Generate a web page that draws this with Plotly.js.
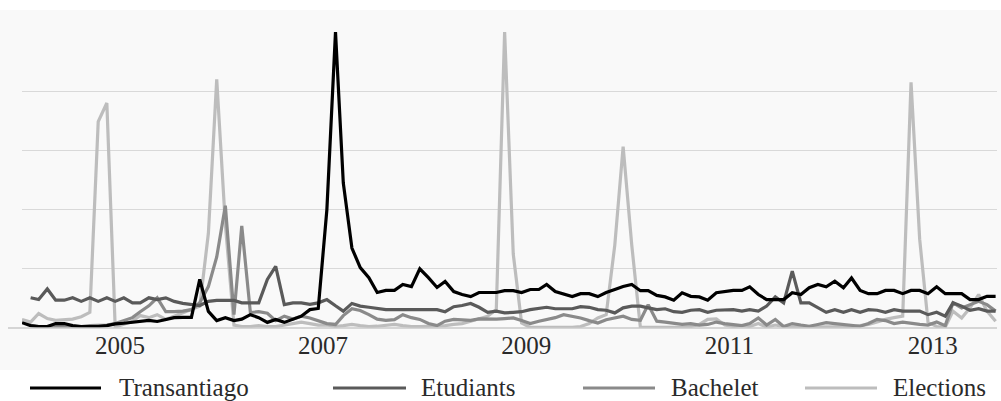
<!DOCTYPE html>
<html>
<head>
<meta charset="utf-8">
<script src="https://cdn.plot.ly/plotly-3.0.1.min.js"></script>
<style>html,body{margin:0;padding:0;background:#fff;}#chart{width:1001px;height:401px;}</style>
</head>
<body>
<div id="chart"></div>
<script>
// ---- Data (monthly, Jan 2004 - Aug 2013) ----
const startYear = 2004;
const monthCount = 116;
const yearLabels = ['2005', '2007', '2009', '2011', '2013'];
const seriesNames = ['Transantiago', 'Etudiants', 'Bachelet', 'Elections'];

const transantiago = [
  1.8, 0.8, 0.5, 0.5, 1.5, 1.5, 0.8, 0.5, 0.5, 0.5, 0.8, 1.4,
  1.6, 2.0, 2.3, 2.6, 2.2, 3.0, 3.5, 3.6, 3.6, 16.4, 5.6, 2.5,
  3.5, 2.5, 3.0, 4.5, 3.5, 1.9, 2.9, 1.9, 2.9, 4.0, 6.2, 6.6,
  40, 100, 49, 27, 20.4, 17, 12, 12.7, 12.7, 14.7, 14, 20,
  17, 13.7, 15.7, 12.3, 11.3, 10.6, 12, 12, 12, 12.6, 12.6, 12,
  13, 13, 14.7, 12.3, 11.6, 10.6, 11.6, 11.6, 10.6, 12, 13, 14,
  14.7, 12.6, 12.6, 11, 10.5, 9.4, 11.9, 10.7, 10.5, 9.4, 11.9, 12.2,
  12.7, 12.7, 13.9, 11.3, 9.6, 9.6, 9.6, 11.9, 11.3, 13.6, 14.7, 13.9,
  15.8, 13.6, 16.9, 12.7, 11.6, 11.6, 12.7, 12.7, 11.6, 12.7, 12.7, 11.6,
  13.9, 11.6, 11.6, 11.6, 9.6, 9.6, 10.7, 10.7
];
const etudiants = [
  null, 10.2, 9.6, 13.2, 9.4, 9.4, 10.2, 9.0, 10.2, 9.0, 10.2, 9.0,
  10.2, 8.5, 8.5, 10.2, 9.6, 10.2, 9.0, 8.3, 7.9, 7.6, 9.0, 9.3,
  9.3, 9.3, 8.5, 8.5, 8.5, 16.4, 20.8, 7.9, 8.5, 8.5, 8.0, 8.5,
  9.6, 7.5, 5.7, 8.3, 7.4, 7.0, 6.5, 6.2, 6.2, 6.2, 6.2, 6.2,
  6.2, 6.2, 5.5, 7.2, 7.6, 8.3, 7.0, 5.3, 5.7, 5.1, 5.3, 5.5,
  6.2, 6.5, 7.0, 6.5, 6.5, 6.5, 7.2, 7.0, 6.2, 6.0, 5.1, 6.8,
  7.4, 7.4, 6.8, 6.2, 6.5, 5.5, 5.3, 6.0, 6.2, 5.3, 6.0, 6.0,
  6.2, 5.7, 6.2, 5.7, 7.4, 10.5, 8.5, 19.2, 8.5, 8.5, 6.8, 5.3,
  6.2, 5.3, 6.2, 5.3, 6.2, 6.0, 5.3, 6.2, 5.7, 5.7, 5.7, 4.5,
  5.3, 4.0, 8.5, 7.4, 6.0, 6.5, 5.7, 5.7
];
const bachelet = [
  null, 0.8, 0.5, 0.5, 0.5, 0.5, 0.5, 0.5, 0.8, 0.8, 1.0, 1.5,
  2.5, 3.5, 5.5, 7.5, 10.2, 5.5, 5.5, 5.7, 6.2, 8.5, 14, 24,
  41.3, 4.5, 34.5, 5.2, 5.5, 5.0, 2.5, 4.0, 3.0, 4.0, 3.4, 2.5,
  1.5, 1.2, 4.2, 6.5, 5.9, 4.5, 3.0, 2.6, 2.8, 4.5, 3.5, 2.9,
  1.5, 0.8, 2.3, 2.9, 2.8, 2.6, 3.1, 3.0, 3.0, 3.2, 3.4, 2.5,
  1.5, 2.3, 2.9, 3.5, 4.5, 4.0, 3.4, 2.5, 1.7, 2.8, 3.4, 4.0,
  2.9, 2.6, 7.9, 2.3, 2.0, 1.5, 1.2, 1.5, 1.0, 1.2, 2.0, 1.5,
  1.2, 0.8, 1.5, 3.4, 1.0, 2.9, 0.5, 1.5, 1.0, 0.6, 1.2, 1.8,
  1.5, 1.2, 1.0, 0.6, 1.5, 2.9, 2.5, 1.5, 2.0, 1.5, 1.2, 1.0,
  2.0, 0.8, 8.5, 6.8, 7.9, 9.0, 7.9, 5.7
];
const elections = [
  2.9, 2.0, 4.9, 3.2, 2.6, 2.9, 3.0, 3.8, 5.3, 69.7, 76, 0.3,
  1.2, 2.3, 4.2, 3.5, 4.5, 2.9, 4.0, 5.2, 6.2, 7.4, 32, 84,
  35, 1.0, 0.5, 0.5, 0.8, 0.5, 0.5, 1.0, 1.5, 2.0, 1.5, 1.0,
  1.0, 0.5, 0.8, 1.2, 0.8, 0.5, 0.6, 0.8, 1.2, 0.8, 0.5, 0.5,
  0.6, 0.5, 0.8, 1.2, 1.5, 2.3, 3.0, 4.0, 6.2, 100, 25, 1.7,
  0.2, 0.2, 0.2, 0.2, 0.2, 0.2, 0.5, 1.5, 3.4, 4.5, 28, 61.3,
  28, 0.2, 0.2, 0.2, 0.2, 0.2, 0.2, 0.5, 1.2, 2.9, 3.1, 1.0,
  0.5, 0.8, 0.5, 1.5, 0.3, 1.0, 0.5, 0.3, 0.5, 0.3, 0.3, 0.5,
  0.3, 0.3, 0.5, 0.8, 1.2, 2.0, 2.9, 3.5, 4.0, 83, 30, 2.0,
  0.5, 0.3, 5.7, 3.4, 6.8, 11.3, 5.7, 2.3
];

// month mid-points as dates
const months = [];
for (let i = 0; i < monthCount; i++) {
  const y = startYear + Math.floor(i / 12);
  const m = (i % 12) + 1;
  months.push(y + '-' + String(m).padStart(2, '0') + '-15');
}

const colors = ['#000000', '#5a5a5a', '#8a8a8a', '#bdbdbd'];
const values = [transantiago, etudiants, bachelet, elections];

// draw lighter series first so black stays on top
const traces = [];
for (let k = values.length - 1; k >= 0; k--) {
  traces.push({
    type: 'scatter', mode: 'lines', name: seriesNames[k],
    x: months, y: values[k],
    line: {color: colors[k], width: 3.2},
    connectgaps: false, hoverinfo: 'skip'
  });
}

const FONT = "'Liberation Serif', 'DejaVu Serif', serif";
const W = 1001, H = 401, ML = 22, MR = 4, MT = 32, MB = 73;
const PW = W - ML - MR, PH = H - MT - MB;
const px = v => (v - ML) / PW;         // pixel -> paper x
const py = v => (H - MB - v) / PH;     // pixel -> paper y

const shapes = [
  {type: 'rect', xref: 'paper', yref: 'paper', x0: px(0), x1: px(1001), y0: py(370), y1: py(10),
   fillcolor: '#f9f9f9', line: {width: 0}, layer: 'below'},
  {type: 'line', xref: 'paper', yref: 'paper', x0: px(8), x1: px(997), y0: 0, y1: 0,
   line: {color: '#c8c8c8', width: 1.5}, layer: 'above'}
];
const annotations = [];
const legendLine = [[30, 101], [333, 406], [583, 655], [805, 877]];
const legendText = [118, 420, 670, 892];
const legendY = 388;
for (let k = 0; k < seriesNames.length; k++) {
  shapes.push({type: 'line', xref: 'paper', yref: 'paper',
    x0: px(legendLine[k][0]), x1: px(legendLine[k][1]), y0: py(legendY), y1: py(legendY),
    line: {color: colors[k], width: 3}});
  annotations.push({xref: 'paper', yref: 'paper', x: px(legendText[k]), y: py(legendY - 1),
    xanchor: 'left', yanchor: 'middle', showarrow: false, text: seriesNames[k],
    font: {family: FONT, size: 25, color: '#2a2a2a'}, borderpad: 0});
}

const layout = {
  width: W, height: H,
  margin: {l: ML, r: MR, t: MT, b: MB, pad: 0},
  paper_bgcolor: '#ffffff', plot_bgcolor: 'rgba(0,0,0,0)',
  showlegend: false,
  xaxis: {
    type: 'date', range: ['2004-01-15', '2013-08-20'],
    tickmode: 'array', tickvals: yearLabels.map(y => y + '-01-01'), ticktext: yearLabels,
    showgrid: false, zeroline: false, showline: false, ticks: '',
    tickfont: {family: FONT, size: 25, color: '#2a2a2a'}
  },
  yaxis: {
    range: [0, 100], tick0: 0, dtick: 20, showticklabels: false,
    showgrid: true, gridcolor: '#d9d9d9', gridwidth: 1.2,
    zeroline: false, showline: false, ticks: ''
  },
  shapes: shapes, annotations: annotations
};

Plotly.newPlot('chart', traces, layout, {staticPlot: true, displayModeBar: false});
</script>
</body>
</html>
